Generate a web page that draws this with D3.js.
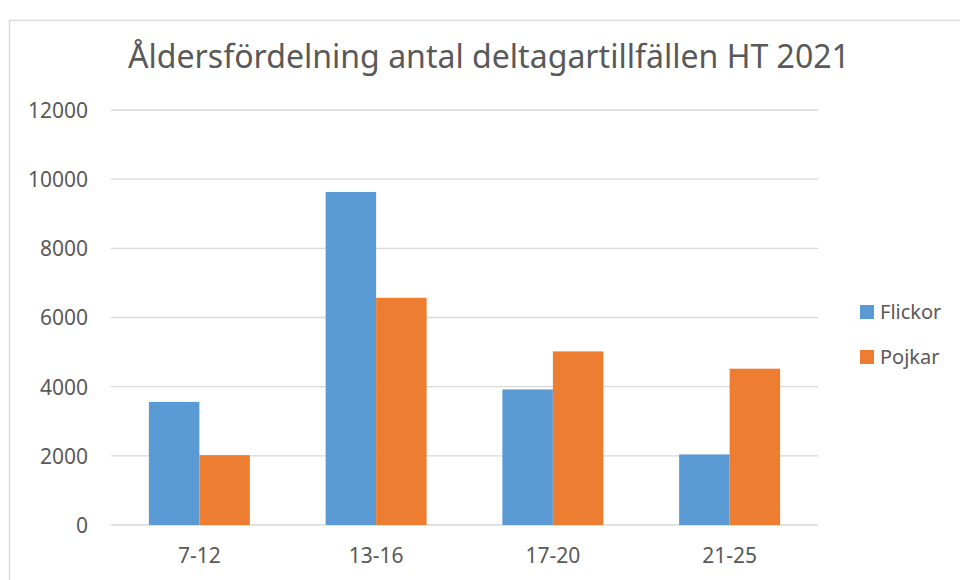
<!DOCTYPE html>
<html>
<head>
<meta charset="utf-8">
<script src="https://cdn.jsdelivr.net/npm/d3@7"></script>
<style>
  body { margin: 0; background: #fff; }
  text { font-family: "Noto Sans", sans-serif; fill: #595959; }
</style>
</head>
<body>
<script>
const title = "Åldersfördelning antal deltagartillfällen HT 2021";
const categories = ["7-12", "13-16", "17-20", "21-25"];
const seriesNames = ["Flickor", "Pojkar"];
const flickor = [3560, 9630, 3920, 2040];
const pojkar = [2020, 6570, 5020, 4520];
const yTicks = [0, 2000, 4000, 6000, 8000, 10000, 12000];
const colors = ["#5B9BD5", "#ED7D31"];

const width = 960, height = 580;
const plot = { left: 111, right: 818, top: 110, bottom: 525 };

const svg = d3.select('body')
    .append('svg')
    .attr('width', width)
    .attr('height', height)

// chart frame
svg.append('rect')
    .attr('x', 9.5).attr('y', 20.5)
    .attr('width', 1000).attr('height', 600)
    .attr('fill', 'none')
    .attr('stroke', '#d9d9d9')
    .attr('stroke-width', 1.3)

const y = d3.scaleLinear().domain([0, 12000]).range([plot.bottom, plot.top])
const x = d3.scaleBand()
    .domain(categories)
    .range([plot.left, plot.right])
    .paddingInner(0.4286)
    .paddingOuter(0.2143)
const xs = d3.scaleBand().domain(seriesNames).range([0, x.bandwidth()])

// gridlines
svg.append('g')
    .selectAll('line')
    .data(yTicks)
    .join('line')
    .attr('x1', plot.left).attr('x2', plot.right)
    .attr('y1', d => y(d)).attr('y2', d => y(d))
    .attr('stroke', '#d9d9d9')
    .attr('stroke-width', 1.3)

// y axis labels
const yAxis = svg.append('g')
    .attr('transform', `translate(${plot.left - 23},0)`)
    .call(d3.axisLeft(y).tickValues(yTicks).tickSize(0).tickPadding(0).tickFormat(d3.format('d')))
yAxis.select('.domain').remove()
yAxis.selectAll('text')
    .style('font-size', '21px')
    .attr('dy', '0.35em')

// x axis labels
const xAxis = svg.append('g')
    .attr('transform', `translate(0,${plot.bottom})`)
    .call(d3.axisBottom(x).tickSize(0).tickPadding(0))
xAxis.select('.domain').remove()
xAxis.selectAll('text')
    .style('font-size', '21px')
    .attr('y', 38)
    .attr('dy', 0)

// bars
const rows = categories.map((c, i) => ({ cat: c, values: [flickor[i], pojkar[i]] }))
svg.append('g')
    .selectAll('g')
    .data(rows)
    .join('g')
    .attr('transform', d => `translate(${x(d.cat)},0)`)
    .selectAll('rect')
    .data(d => d.values.map((v, k) => ({ name: seriesNames[k], value: v, k })))
    .join('rect')
    .attr('x', d => xs(d.name))
    .attr('width', xs.bandwidth())
    .attr('y', d => y(d.value))
    .attr('height', d => y(0) - y(d.value))
    .attr('fill', d => colors[d.k])

// legend
const legend = svg.append('g')
    .selectAll('g')
    .data(seriesNames)
    .join('g')
    .attr('transform', (d, i) => `translate(860,${305 + i * 45})`)
legend.append('rect')
    .attr('width', 14).attr('height', 14)
    .attr('fill', (d, i) => colors[i])
legend.append('text')
    .attr('x', 20).attr('y', 14)
    .style('font-size', '20px')
    .text(d => d)

// title, sized to span the same width as the original
const t = svg.append('text')
    .attr('x', 489).attr('y', 68)
    .attr('text-anchor', 'middle')
    .style('font-size', '32px')
    .text(title)
const w = t.node().getComputedTextLength()
t.style('font-size', (32 * 722 / w) + 'px')
</script>
</body>
</html>
